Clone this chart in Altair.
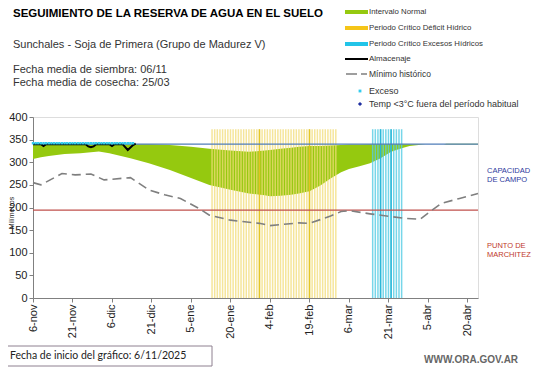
import json
import altair as alt
import pandas as pd

# ---------------- data ----------------
tick_days = [0, 15, 30, 45, 60, 75, 90, 105, 120, 135, 150, 165]
tick_labels = ["6-nov", "21-nov", "6-dic", "21-dic", "5-ene", "20-ene",
               "4-feb", "19-feb", "6-mar", "21-mar", "5-abr", "20-abr"]

band_days = [0, 3, 6, 12, 18, 25, 29, 37, 44, 52, 60, 67, 75, 82, 88, 90, 94, 98,
             101, 105, 109, 113, 117, 120, 124, 128, 132, 136, 140, 143, 149, 156, 157, 169]
band_lower = [307, 311, 314, 318, 320, 324, 320, 309, 298, 283, 265, 250, 239, 231, 227, 225, 226, 228,
              231, 236, 248, 264, 278, 285, 291, 298, 309, 323, 331, 336, 340, 340, 339, 339]
band_upper = [340, 340, 340, 340, 340, 340, 340, 340, 340, 338, 334, 330, 326, 323, 326, 327, 330, 332,
              334, 336, 336, 337, 338, 339, 339, 340, 340, 340, 340, 340, 340, 340, 341, 341]

min_days = [0, 3, 11, 16, 22, 27, 37, 44, 50, 56, 63, 67, 75, 86, 90, 101, 105, 113,
            117, 120, 128, 136, 141, 147, 155, 162, 169]
min_vals = [255, 250, 275, 272, 274, 261, 266, 239, 228, 220, 198, 183, 172, 165, 160, 166, 165, 181,
            191, 193, 186, 180, 176, 174, 209, 220, 231]

alm_days = [0, 3, 4, 5, 20, 21, 22, 23, 24, 29, 30, 31, 34, 36, 38, 39]
alm_vals = [340, 340, 336, 340, 340, 335, 333, 335, 340, 340, 336, 340, 340, 327, 338, 341]

exceso_days = list(range(0, 39))
exceso_val = 342

deficit_days = list(range(68, 116))
deficit_dark_days = [86, 105]
excesos_days = list(range(129, 141))
excesos_dark_days = [132, 136]
critical_top = 373

capacidad = 340
marchitez = 194

X0, Y0 = 33, 117  # plot origin in page pixels
FONT = "Liberation Sans"

# ---------------- scales ----------------
label_expr = json.dumps(tick_labels) + "[round(datum.value/15)]"
xenc = alt.X("day:Q", scale=alt.Scale(domain=[0, 169], nice=False, zero=False),
             axis=alt.Axis(values=tick_days, labelExpr=label_expr, labelAngle=270,
                           labelFontSize=11, labelFont=FONT, labelColor="#222",
                           tickSize=4, tickColor="#808080", domainColor="#808080",
                           labelPadding=2, grid=False, title=None, labelOverlap=False))
yscale = alt.Scale(domain=[0, 400], nice=False)
yenc = alt.Y("v:Q", scale=yscale,
             axis=alt.Axis(values=[0, 50, 100, 150, 200, 250, 300, 350, 400],
                           labelFontSize=11, labelFont=FONT, labelColor="#222",
                           tickSize=4, tickColor="#808080", domainColor="#808080",
                           labelPadding=2, grid=False, title=None))

band_df = pd.DataFrame({"day": band_days, "v": band_lower, "v2": band_upper})
min_df = pd.DataFrame({"day": min_days, "v": min_vals})
alm_df = pd.DataFrame({"day": alm_days, "v": alm_vals})
exc_df = pd.DataFrame({"day": exceso_days, "v": [exceso_val] * len(exceso_days)})

def bars(days, color, width, opacity):
    df = pd.DataFrame({"day": days, "v": [critical_top] * len(days), "v2": [0] * len(days)})
    return alt.Chart(df).mark_rule(color=color, strokeWidth=width, opacity=opacity).encode(
        x=xenc, y=yenc, y2="v2:Q")

area = alt.Chart(band_df).mark_area(color="#95C90F", opacity=1).encode(x=xenc, y=yenc, y2="v2:Q")

def hline(val, color):
    df = pd.DataFrame({"day": [0], "v": [val]})
    return alt.Chart(df).mark_rule(color=color, strokeWidth=1.2).encode(
        y=yenc, x=alt.value(0), x2=alt.value(445))

dashed = alt.Chart(min_df).mark_line(color="#7F7F7F", strokeWidth=1.6, strokeDash=[9, 5]).encode(x=xenc, y=yenc)
alm = alt.Chart(alm_df).mark_line(color="#000000", strokeWidth=2).encode(x=xenc, y=yenc)
exc = alt.Chart(exc_df).mark_square(color="#33CCEE", size=6, opacity=1).encode(x=xenc, y=yenc)

dummy = alt.Data(values=[{"a": 1}])

def txt(s, px, py, size, color="#333333", weight="normal", font=FONT, angle=0, align="left"):
    return alt.Chart(dummy).mark_text(text=s, align=align, baseline="middle", fontSize=size,
                                      fontWeight=weight, font=font, color=color, angle=angle).encode(
        x=alt.value(px - X0), y=alt.value(py - Y0))

def lrule(x1, x2, py, color, width, dash=None):
    kw = dict(color=color, strokeWidth=width)
    if dash:
        kw["strokeDash"] = dash
    return alt.Chart(dummy).mark_rule(**kw).encode(
        x=alt.value(x1 - X0), x2=alt.value(x2 - X0), y=alt.value(py - Y0))

def lpoint(px, py, shape, color, size):
    return alt.Chart(dummy).mark_point(shape=shape, filled=True, color=color, size=size, opacity=1).encode(
        x=alt.value(px - X0), y=alt.value(py - Y0))

box = alt.Chart(dummy).mark_rect(fill="white", stroke="#8E8090", strokeWidth=1).encode(
    x=alt.value(4 - X0), x2=alt.value(212 - X0), y=alt.value(346 - Y0), y2=alt.value(366 - Y0))

layers = [
    area,
    bars(deficit_days, "#F2DC78", 1.5, 0.75),
    bars(deficit_dark_days, "#E2C21A", 1.5, 0.9),
    bars(excesos_days, "#55CCE4", 1.5, 0.8),
    bars(excesos_dark_days, "#22B5D6", 1.5, 0.9),
    hline(capacidad, "#4F7DB8"),
    hline(marchitez, "#C0504D"),
    dashed, alm, exc,
    # header texts
    txt("SEGUIMIENTO DE LA RESERVA DE AGUA  EN EL SUELO", 13, 14, 11.5, "#000000", "bold"),
    txt("Sunchales  - Soja de Primera (Grupo de Madurez V)", 13, 45, 11),
    txt("Fecha media de siembra: 06/11", 13, 70, 11),
    txt("Fecha media de cosecha: 25/03", 13, 83, 11),
    # legend
    lrule(345, 368, 12, "#95C90F", 4),
    lrule(345, 368, 28, "#F5C518", 4),
    lrule(345, 368, 44, "#22C4E8", 4),
    lrule(345, 368, 59, "#000000", 2),
    lrule(346, 368, 74, "#7F7F7F", 1.6, [11, 4, 6, 100]),
    lpoint(360, 91, "square", "#33CCEE", 8),
    lpoint(360, 104, "diamond", "#1F2FA0", 18),
    txt("Intervalo Normal", 369, 12, 7.8),
    txt("Periodo Crítico Déficit Hídrico", 369, 28, 7.8),
    txt("Periodo Crítico Excesos Hídricos", 369, 44, 7.8),
    txt("Almacenaje", 369, 59, 8),
    txt("Mínimo histórico", 369, 74, 8.5),
    txt("Exceso", 369, 91, 9),
    txt("Temp <3°C fuera del período habitual", 369, 104, 9),
    # right annotations
    txt("CAPACIDAD", 487, 171, 7.5, "#2E3A9E"),
    txt("DE  CAMPO", 487, 180, 7.5, "#2E3A9E"),
    txt("PUNTO   DE", 487, 246, 7.5, "#C0392B"),
    txt("MARCHITEZ", 487, 255, 7.5, "#C0392B"),
    # y title
    txt("Milímetros", 12, 213, 7, "#222222", angle=270, align="center"),
    # footer
    box,
    txt("Fecha de inicio del gráfico:   6/11/2025", 10, 356, 10.5, "#222222", font="Lato"),
    txt("WWW.ORA.GOV.AR", 424, 360, 10, "#666666", "bold"),
]

chart = alt.layer(*layers).properties(
    width=445, height=181,
    autosize=alt.AutoSizeParams(type="none"),
    padding={"left": 25, "top": 109, "right": 55, "bottom": 76},
).configure_view(stroke=None).configure(background="white")

chart.save("out.html", embed_options={"renderer": "svg", "actions": False})
